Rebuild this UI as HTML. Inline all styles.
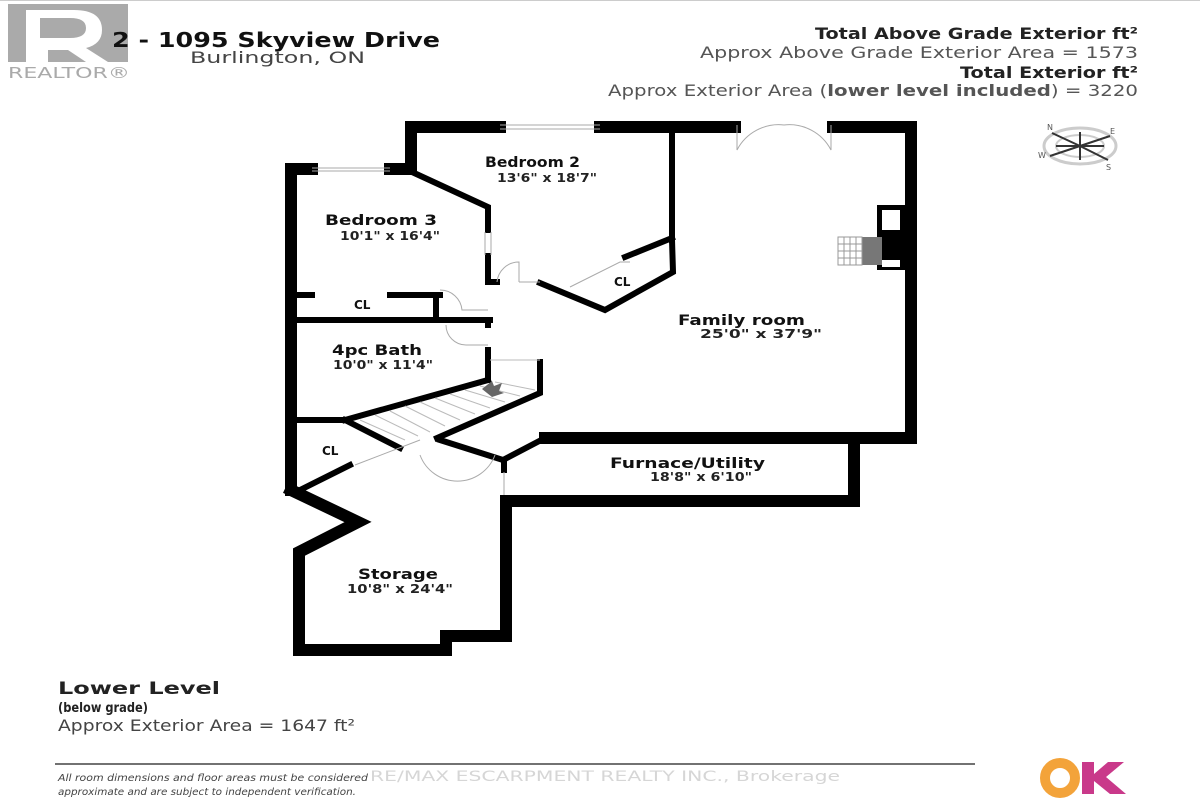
<!DOCTYPE html>
<html><head><meta charset="utf-8"><style>
html,body{margin:0;padding:0;background:#fff;}
body{width:1200px;height:805px;overflow:hidden;position:relative;font-family:"DejaVu Sans","Liberation Sans",sans-serif;}
svg text{font-family:"DejaVu Sans","Liberation Sans",sans-serif;}
</style></head><body>
<svg width="1200" height="805" viewBox="0 0 1200 805" xmlns="http://www.w3.org/2000/svg" style="position:absolute;left:0;top:0">
<line x1="0" y1="0.5" x2="1200" y2="0.5" stroke="#ccc"/>
<rect x="8" y="4" width="120" height="58" fill="#aaa"/>
<path d="M26 10 h48 q28 0 28 20 q0 14 -16 18 l22 14 h-22 l-18 -12 h-20 v12 h-22z" fill="#fff"/>
<path d="M40 18 h30 q16 0 16 10 q0 10 -16 10 h-30z" fill="#aaa"/>
<text x="8" y="78" font-size="15" fill="#aaa" textLength="122" lengthAdjust="spacingAndGlyphs">REALTOR®</text>
<text x="112" y="47" font-size="20" font-weight="bold" fill="#111" textLength="328" lengthAdjust="spacingAndGlyphs">2 - 1095 Skyview Drive</text>
<text x="190" y="63" font-size="16" fill="#444" textLength="175" lengthAdjust="spacingAndGlyphs">Burlington, ON</text>
<g font-size="16">
<text x="815" y="39" font-weight="bold" fill="#222" textLength="323" lengthAdjust="spacingAndGlyphs">Total Above Grade Exterior ft²</text>
<text x="700" y="58" fill="#555" textLength="438" lengthAdjust="spacingAndGlyphs">Approx Above Grade Exterior Area = 1573</text>
<text x="960" y="78" font-weight="bold" fill="#222" textLength="178" lengthAdjust="spacingAndGlyphs">Total Exterior ft²</text>
<text x="608" y="96" fill="#555" textLength="530" lengthAdjust="spacingAndGlyphs">Approx Exterior Area (<tspan font-weight="bold">lower level included</tspan>) = 3220</text>
</g>
<g transform="translate(1080,146)">
<ellipse cx="0" cy="0" rx="36" ry="18" fill="none" stroke="#ccc" stroke-width="3"/>
<ellipse cx="0" cy="0" rx="24" ry="11" fill="none" stroke="#ccc" stroke-width="2"/>
<path d="M-28 -13 L0 0 L28 14 M30 -10 L0 0 L-30 10 M0 -14 L0 14 M-24 0 L24 0" stroke="#333" stroke-width="2"/>
<text x="-33" y="-16" font-size="8" fill="#555">N</text><text x="30" y="-12" font-size="8" fill="#555">E</text>
<text x="-42" y="12" font-size="8" fill="#555">W</text><text x="26" y="24" font-size="8" fill="#555">S</text>
</g>
<g fill="none" stroke="#000" stroke-width="12" stroke-linejoin="miter" stroke-linecap="square">
<polyline points="411,165 411,127 500,127"/>
<line x1="600" y1="127" x2="735" y2="127"/>
<polyline points="833,127 911,127 911,438 545,438"/>
<line x1="291" y1="169" x2="312" y2="169"/>
<line x1="390" y1="169" x2="411" y2="169"/>
<polyline points="291,169 291,490"/>
<polyline points="291,490 358,522 299,552 299,650 446,650 446,636 506,636 506,505"/>
<polyline points="506,501 854,501 854,438"/>
</g>
<g fill="none" stroke="#000" stroke-width="6" stroke-linecap="square">
<polyline points="412,172 488,207 488,230"/>
<line x1="488" y1="256" x2="488" y2="282"/>
<line x1="672" y1="128" x2="672" y2="240"/>
<polyline points="540,283 605,310 673,272 672,240"/>
<line x1="625" y1="257" x2="672" y2="238"/>
<line x1="488" y1="282" x2="497" y2="282"/>
<line x1="298" y1="295" x2="312" y2="295"/>
<line x1="390" y1="295" x2="440" y2="295"/>
<line x1="436" y1="295" x2="436" y2="320"/>
<line x1="298" y1="320" x2="490" y2="320"/>
<line x1="488" y1="320" x2="488" y2="325"/>
<line x1="488" y1="350" x2="488" y2="380"/>
<line x1="298" y1="420" x2="345" y2="420"/>
<polyline points="345,420 488,380"/>
<polyline points="540,362 540,393 437,438"/>
<polyline points="345,420 400,448"/>
<line x1="300" y1="490" x2="350" y2="465"/>
<polyline points="440,440 503,460 545,438"/>
<line x1="504" y1="460" x2="504" y2="470"/>
</g>
<g stroke="#bbb" stroke-width="1">
<line x1="490" y1="360" x2="540" y2="360"/>
<line x1="360" y1="420" x2="405" y2="440"/><line x1="375" y1="415" x2="418" y2="436"/>
<line x1="390" y1="411" x2="430" y2="432"/><line x1="405" y1="406" x2="445" y2="426"/>
<line x1="420" y1="402" x2="460" y2="420"/><line x1="435" y1="398" x2="475" y2="414"/>
<line x1="450" y1="394" x2="490" y2="408"/><line x1="465" y1="390" x2="505" y2="402"/>
<line x1="480" y1="386" x2="520" y2="396"/><line x1="495" y1="382" x2="535" y2="390"/>
</g>
<path d="M482 389 l10 -8 l2 5 l8 -3 l-3 8 l5 2 l-12 4z" fill="#666"/>
<g stroke="#aaa" stroke-width="1" fill="none">
<line x1="500" y1="125" x2="600" y2="125"/><line x1="500" y1="129" x2="600" y2="129"/>
<line x1="312" y1="168" x2="390" y2="168"/><line x1="312" y1="171" x2="390" y2="171"/>
<path d="M737 125 V150 A47 47 0 0 1 784 125 M831 125 V150 A47 47 0 0 0 784 125"/>
<path d="M497 282 A22 22 0 0 1 519 262 V282 M519 282 H540"/>
<path d="M440 290 A22 22 0 0 1 462 310 H488"/>
<path d="M446 325 A20 20 0 0 0 466 345 H488"/>
<path d="M570 287 L620 262 L630 262"/>
<path d="M485 232 V255 M491 232 V255"/>
<path d="M420 455 A40 40 0 0 0 495 455"/>
<path d="M355 465 L420 440"/>
<path d="M504 472 V495"/>
</g>
<rect x="877" y="205" width="28" height="65" fill="#000"/>
<rect x="882" y="210" width="18" height="20" fill="#fff"/><rect x="882" y="260" width="18" height="7" fill="#fff"/>
<rect x="862" y="237" width="20" height="28" fill="#777"/>
<g stroke="#999" stroke-width="1"><rect x="838" y="237" width="24" height="28" fill="#fff"/>
<line x1="844" y1="237" x2="844" y2="265"/><line x1="850" y1="237" x2="850" y2="265"/><line x1="856" y1="237" x2="856" y2="265"/>
<line x1="838" y1="244" x2="862" y2="244"/><line x1="838" y1="251" x2="862" y2="251"/><line x1="838" y1="258" x2="862" y2="258"/></g>
<g font-weight="bold" font-size="14" fill="#111">
<text x="485" y="167" textLength="95" lengthAdjust="spacingAndGlyphs">Bedroom 2</text>
<text x="325" y="225" textLength="112" lengthAdjust="spacingAndGlyphs">Bedroom 3</text>
<text x="678" y="325" textLength="127" lengthAdjust="spacingAndGlyphs">Family room</text>
<text x="332" y="355" textLength="90" lengthAdjust="spacingAndGlyphs">4pc Bath</text>
<text x="610" y="468" textLength="155" lengthAdjust="spacingAndGlyphs">Furnace/Utility</text>
<text x="358" y="579" textLength="80" lengthAdjust="spacingAndGlyphs">Storage</text>
<text x="354" y="309" font-size="12">CL</text><text x="614" y="286" font-size="12">CL</text><text x="322" y="455" font-size="12">CL</text>
</g>
<g font-size="12" font-weight="bold" fill="#222">
<text x="497" y="182" textLength="100" lengthAdjust="spacingAndGlyphs">13'6" x 18'7"</text>
<text x="340" y="240" textLength="100" lengthAdjust="spacingAndGlyphs">10'1" x 16'4"</text>
<text x="700" y="338" textLength="122" lengthAdjust="spacingAndGlyphs">25'0" x 37'9"</text>
<text x="333" y="369" textLength="100" lengthAdjust="spacingAndGlyphs">10'0" x 11'4"</text>
<text x="650" y="481" textLength="102" lengthAdjust="spacingAndGlyphs">18'8" x 6'10"</text>
<text x="347" y="593" textLength="106" lengthAdjust="spacingAndGlyphs">10'8" x 24'4"</text>
</g>
<text x="58" y="694" font-size="17" font-weight="bold" fill="#222" textLength="162" lengthAdjust="spacingAndGlyphs">Lower Level</text>
<text x="58" y="712" font-size="13" font-weight="bold" fill="#222" textLength="90" lengthAdjust="spacingAndGlyphs">(below grade)</text>
<text x="58" y="731" font-size="16" fill="#444" textLength="297" lengthAdjust="spacingAndGlyphs">Approx Exterior Area = 1647 ft²</text>
<line x1="55" y1="764" x2="975" y2="764" stroke="#444" stroke-width="1.5"/>
<text x="58" y="781" font-size="10" font-style="italic" fill="#444" textLength="310" lengthAdjust="spacingAndGlyphs">All room dimensions and floor areas must be considered</text>
<text x="58" y="795" font-size="10" font-style="italic" fill="#444" textLength="298" lengthAdjust="spacingAndGlyphs">approximate and are subject to independent verification.</text>
<text x="370" y="781" font-size="14" fill="#ccc" opacity="0.8" textLength="470" lengthAdjust="spacingAndGlyphs">RE/MAX ESCARPMENT REALTY INC., Brokerage</text>
<circle cx="1060" cy="778" r="15" fill="none" stroke="#f3a33a" stroke-width="10"/>
<path d="M1082 762 h12 v12 l14 -12 h16 l-18 15 l20 17 h-16 l-16 -13 v13 h-12z" fill="#c9398a"/>
</svg>
</body></html>
